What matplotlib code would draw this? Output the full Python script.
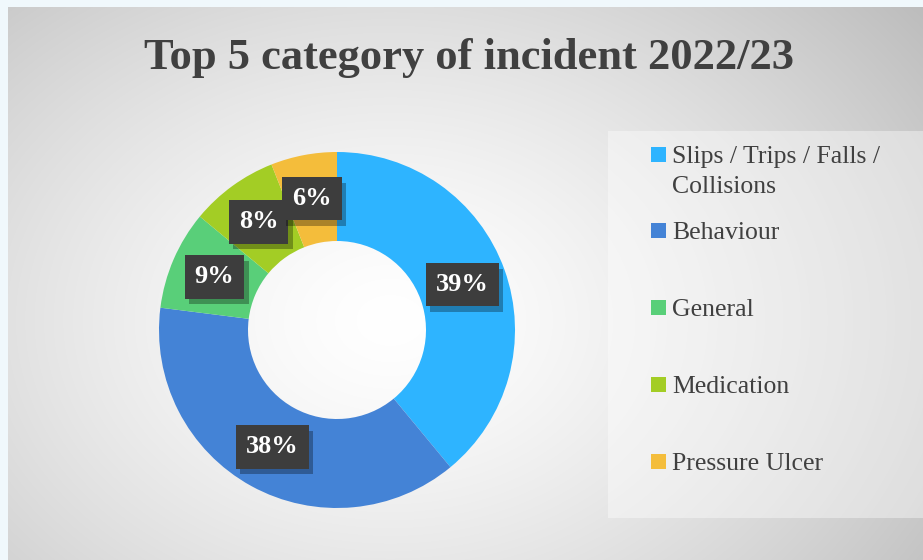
import numpy as np
import matplotlib.pyplot as plt
import matplotlib.patheffects as pe
from matplotlib.patches import Rectangle

categories = ["Slips / Trips / Falls /\nCollisions", "Behaviour", "General",
              "Medication", "Pressure Ulcer"]
values = [39, 38, 9, 8, 6]
colors = ["#2eb4ff", "#4483d6", "#59cf79", "#a3cd25", "#f4bd3b"]
title = "Top 5 category of incident 2022/23"

W, H = 923, 560
serif = ["Liberation Serif", "DejaVu Serif"]

fig = plt.figure(figsize=(W / 100, H / 100), dpi=100, facecolor="#f0f8fc")

# grey radial backdrop
bg = fig.add_axes([8 / W, 0, 1 - 8 / W, 1 - 7 / H])
yy, xx = np.mgrid[0:H - 7, 8:W]
d = np.sqrt(((xx - 390) / 600) ** 2 + ((yy + 7 - 320) / 450) ** 2)
shade = 1.0 - 0.22 * np.clip(d, 0, 1.2) ** 1.4
bg.imshow(np.dstack([shade] * 3), aspect="auto", extent=[0, 1, 0, 1], origin="upper")
bg.set_axis_off()

# legend panel
fig.patches.append(Rectangle((608 / W, 1 - 518 / H), (W - 608) / W, (518 - 131) / H,
                             transform=fig.transFigure, facecolor="white",
                             alpha=0.4, edgecolor="none", zorder=1))

fig.text(469 / W, 1 - 58 / H, title, ha="center", va="center",
         fontsize=32, fontweight="bold", color="#404040", family=serif)

# donut
cx, cy, r = 337, 330, 178
ax = fig.add_axes([(cx - r) / W, (H - cy - r) / H, 2 * r / W, 2 * r / H])
wedges, _ = ax.pie(values, colors=colors, startangle=90, counterclock=False,
                   radius=1, wedgeprops=dict(width=0.5, linewidth=0))
ax.set_xlim(-1, 1)
ax.set_ylim(-1, 1)
ax.set_axis_off()

box = dict(boxstyle="square,pad=0.38", facecolor="#3d3d3d", edgecolor="none")
for w, v in zip(wedges, values):
    ang = np.deg2rad((w.theta1 + w.theta2) / 2)
    x, y = 0.75 * np.cos(ang), 0.75 * np.sin(ang)
    t = ax.text(x, y, f"{v}%", ha="center", va="center", fontsize=19,
                fontweight="bold", color="white", family=serif, bbox=box)
    t.get_bbox_patch().set_path_effects(
        [pe.SimplePatchShadow(offset=(3, -4), shadow_rgbFace="black", alpha=0.3),
         pe.Normal()])

# legend entries
rows = [155, 231, 308, 385, 462]
for cat, col, ry in zip(categories, colors, rows):
    fig.patches.append(Rectangle((651 / W, 1 - (ry + 7) / H), 15 / W, 15 / H,
                                 transform=fig.transFigure, facecolor=col,
                                 edgecolor="none", zorder=2))
    fig.text(672 / W, 1 - (ry - 9) / H, cat, ha="left", va="top", fontsize=18.5,
             color="#404040", family=serif, linespacing=1.45)

fig.savefig("out.png", dpi=100, facecolor=fig.get_facecolor())
